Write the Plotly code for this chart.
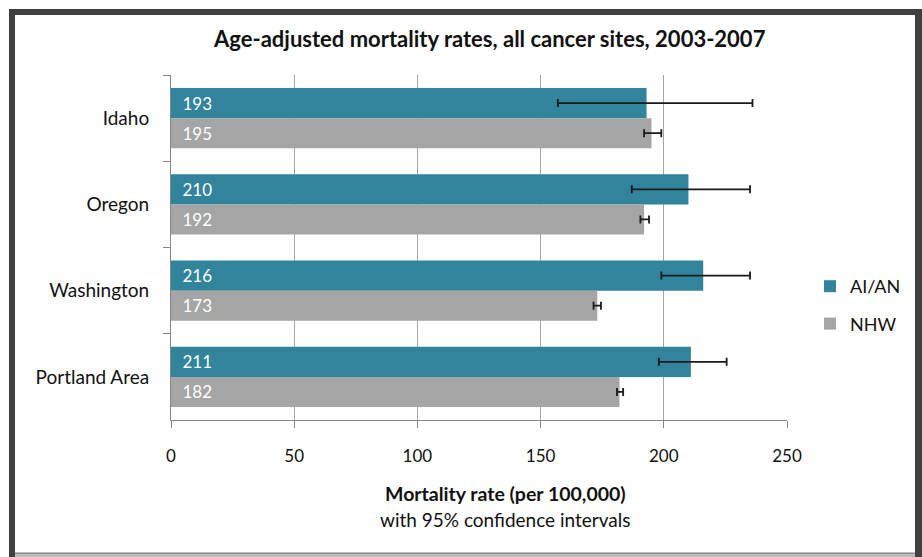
import plotly.graph_objects as go

# Regions (top to bottom) and age-adjusted mortality per 100,000
regions = ["Idaho", "Oregon", "Washington", "Portland Area"]
aian_rate = [193, 210, 216, 211]
nhw_rate = [195, 192, 173, 182]

# 95% confidence interval bounds
aian_ci_low = [157, 187, 199, 198]
aian_ci_high = [236, 235, 235, 225.5]
nhw_ci_low = [192, 190.5, 171.5, 181]
nhw_ci_high = [199, 194, 174.5, 183.5]

x_ticks = [0, 50, 100, 150, 200, 250]

TEAL = "#31849B"
GRAY = "#A5A5A5"
FONT = "Lato"
INK = "#111111"

W, H = 922, 557
L, R, T, B = 171, 787, 75, 420  # plot-area edges in pixels


def px_x(p):
    return (p - L) / (R - L)


def px_y(p):
    return (B - p) / (B - T)


def err(vals, lo, hi):
    return dict(
        type="data",
        symmetric=False,
        array=[h - v for v, h in zip(vals, hi)],
        arrayminus=[v - l for v, l in zip(vals, lo)],
        color="#1a1a1a",
        thickness=1.8,
        width=4,
    )


fig = go.Figure()
fig.add_trace(go.Bar(
    name="AI/AN", y=regions, x=aian_rate, orientation="h",
    marker=dict(color=TEAL, line=dict(width=0)),
    text=aian_rate, texttemplate="\u2002%{x}", textposition="inside",
    insidetextanchor="start", textangle=0,
    textfont=dict(family=FONT, size=17, color="white"),
    error_x=err(aian_rate, aian_ci_low, aian_ci_high),
    legendgroup="a",
))
fig.add_trace(go.Bar(
    name="NHW", y=regions, x=nhw_rate, orientation="h",
    marker=dict(color=GRAY, line=dict(width=0)),
    text=nhw_rate, texttemplate="\u2002%{x}", textposition="inside",
    insidetextanchor="start", textangle=0,
    textfont=dict(family=FONT, size=17, color="white"),
    error_x=err(nhw_rate, nhw_ci_low, nhw_ci_high),
    legendgroup="b",
))

# Frame around the chart
frame = [
    (9, 9, 922, 15, "#404040"),
    (9, 9, 15, 557, "#404040"),
    (915, 9, 922, 557, "#404040"),
    (15, 552, 915, 557, "#BEBEBE"),
]
shapes = []
for x0, y0, x1, y1, c in frame:
    shapes.append(dict(
        type="rect", xref="paper", yref="paper",
        x0=px_x(x0), x1=px_x(x1), y0=px_y(y0), y1=px_y(y1),
        fillcolor=c, line=dict(width=0), layer="above",
    ))
shapes.append(dict(
    type="line", xref="paper", yref="paper",
    x0=px_x(15), x1=px_x(915), y0=px_y(553.5), y1=px_y(553.5),
    line=dict(color="#8A8A8A", width=1), layer="above",
))

fig.update_layout(
    width=W, height=H,
    margin=dict(l=L, r=W - R, t=T, b=H - B, pad=0),
    paper_bgcolor="white", plot_bgcolor="white",
    barmode="group", bargap=0.30, bargroupgap=0,
    font=dict(family=FONT, size=17, color=INK),
    showlegend=True,
    legend=dict(
        x=px_x(810), y=px_y(305), xanchor="left", yanchor="middle",
        font=dict(family=FONT, size=18, color=INK),
        traceorder="grouped", tracegroupgap=11,
        bgcolor="rgba(0,0,0,0)",
    ),
    xaxis=dict(
        range=[0, 250], tickvals=x_ticks,
        showgrid=True, gridcolor="#A6A6A6", gridwidth=1,
        showline=True, linecolor="#868686", linewidth=1,
        ticks="outside", ticklen=7, tickcolor="#868686",
        ticklabelstandoff=14, zeroline=False,
        tickfont=dict(family=FONT, size=17, color=INK),
        fixedrange=True,
    ),
    yaxis=dict(
        categoryorder="array", categoryarray=regions,
        autorange="reversed",
        showgrid=False, showline=True, linecolor="#868686", linewidth=1,
        ticks="outside", ticklen=7, tickcolor="#868686",
        tickson="boundaries", ticklabelstandoff=17,
        tickfont=dict(family=FONT, size=19, color=INK),
        fixedrange=True,
    ),
    shapes=shapes,
    annotations=[
        dict(text="<b>Age-adjusted mortality rates, all cancer sites, 2003-2007</b>",
             xref="paper", yref="paper", x=px_x(489), y=px_y(38),
             xanchor="center", yanchor="middle", showarrow=False,
             font=dict(family=FONT, size=22, color=INK)),
        dict(text="<b>Mortality rate (per 100,000)</b>",
             xref="paper", yref="paper", x=px_x(505), y=px_y(493),
             xanchor="center", yanchor="middle", showarrow=False,
             font=dict(family=FONT, size=19.5, color=INK)),
        dict(text="with 95% confidence intervals",
             xref="paper", yref="paper", x=px_x(505), y=px_y(519),
             xanchor="center", yanchor="middle", showarrow=False,
             font=dict(family=FONT, size=19, color=INK)),
    ],
)

fig.write_html("out.html", config={"displayModeBar": False})
